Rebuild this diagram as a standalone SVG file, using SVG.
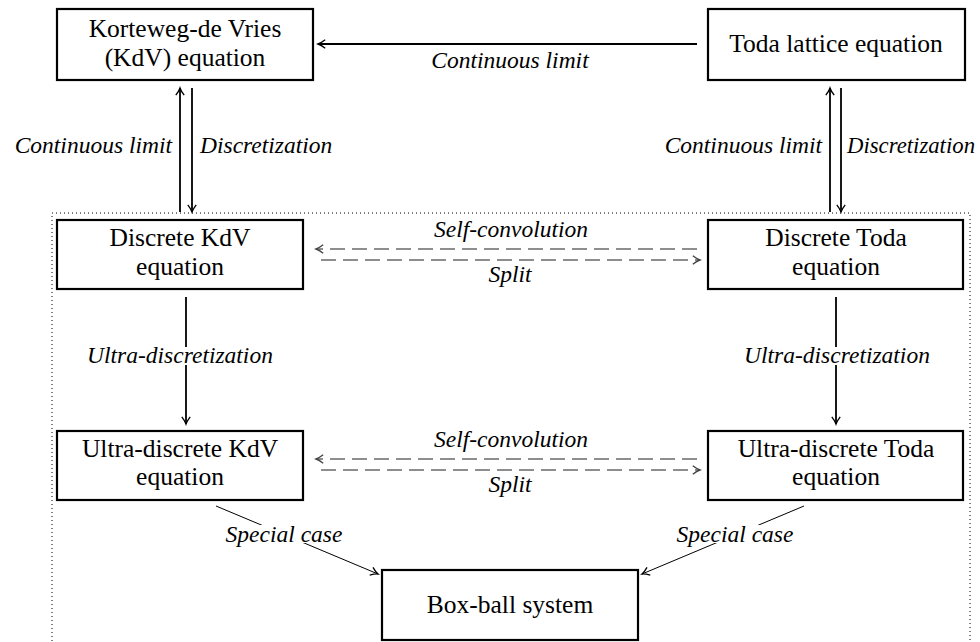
<svg xmlns="http://www.w3.org/2000/svg" width="980" height="642" viewBox="0 0 980 642">
<style>
.box{fill:#fff;stroke:#000;stroke-width:2.2}
.t{font-family:"Liberation Serif","Times New Roman",serif;font-size:25.5px;fill:#000;text-anchor:middle}
.l{font-family:"Liberation Serif","Times New Roman",serif;font-size:23.5px;font-style:italic;fill:#000}
.c{text-anchor:middle}
.e{text-anchor:end}
.ln{stroke:#000;stroke-width:1.8;fill:none}
.thin{stroke:#000;stroke-width:1;fill:none}
.dash{stroke:#6a6a6a;stroke-width:1.3;fill:none;stroke-dasharray:15 7}
.bg{fill:#fff}
</style>
<defs>
<marker id="ah" markerUnits="userSpaceOnUse" markerWidth="12" markerHeight="12" viewBox="-8 -5 10 10" refX="0" refY="0" orient="auto">
<path d="M-6,-3.5 Q-2.5,-0.8 0,0 Q-2.5,0.8 -6,3.5" fill="none" stroke="#000" stroke-width="1.1"/>
</marker>
<marker id="ahg" markerUnits="userSpaceOnUse" markerWidth="12" markerHeight="12" viewBox="-8 -5 10 10" refX="0" refY="0" orient="auto">
<path d="M-6,-3.5 Q-2.5,-0.8 0,0 Q-2.5,0.8 -6,3.5" fill="none" stroke="#444" stroke-width="1.1"/>
</marker>
</defs>
<rect x="52" y="213" width="918" height="440" fill="none" stroke="#000" stroke-width="1" stroke-dasharray="1 3"/>
<g id="connectors">
<line class="ln" x1="697" y1="44" x2="318" y2="44" marker-end="url(#ah)"/>
<line class="ln" x1="180" y1="212" x2="180" y2="88" marker-end="url(#ah)"/>
<line class="ln" x1="192" y1="88" x2="192" y2="212" marker-end="url(#ah)"/>
<line class="ln" x1="830" y1="212" x2="830" y2="88" marker-end="url(#ah)"/>
<line class="ln" x1="841" y1="88" x2="841" y2="212" marker-end="url(#ah)"/>
<line class="ln" x1="186" y1="297" x2="186" y2="424" marker-end="url(#ah)"/>
<line class="ln" x1="836" y1="297" x2="836" y2="424" marker-end="url(#ah)"/>
<line class="dash" x1="697" y1="249" x2="316" y2="249" marker-end="url(#ahg)"/>
<line class="dash" x1="321" y1="260" x2="700" y2="260" marker-end="url(#ahg)"/>
<line class="dash" x1="697" y1="459" x2="316" y2="459" marker-end="url(#ahg)"/>
<line class="dash" x1="321" y1="470" x2="700" y2="470" marker-end="url(#ahg)"/>
<line class="thin" x1="216" y1="506" x2="378" y2="574" marker-end="url(#ah)"/>
<line class="thin" x1="804" y1="506" x2="642" y2="574" marker-end="url(#ah)"/>
<text class="l c" x="510" y="68">Continuous limit</text>
<text class="l e" x="172" y="153">Continuous limit</text>
<text class="l" x="200" y="153">Discretization</text>
<text class="l e" x="822" y="153">Continuous limit</text>
<text class="l" x="847" y="153" textLength="128" lengthAdjust="spacingAndGlyphs">Discretization</text>
<text class="l c" x="511" y="237">Self-convolution</text>
<text class="l c" x="510" y="282">Split</text>
<text class="l c" x="511" y="447">Self-convolution</text>
<text class="l c" x="510" y="492">Split</text>
<rect class="bg" x="79" y="347" width="202" height="18"/>
<text class="l c" x="180" y="363">Ultra-discretization</text>
<rect class="bg" x="744" y="347" width="186" height="18"/>
<text class="l c" x="837" y="363">Ultra-discretization</text>
<rect class="bg" x="220" y="525" width="128" height="18"/>
<text class="l c" x="284" y="542">Special case</text>
<rect class="bg" x="674" y="525" width="122" height="18"/>
<text class="l c" x="735" y="542">Special case</text>
</g>
<g id="kdv"><rect class="box" x="57" y="9" width="256" height="71"/><text class="t" x="185" y="37">Korteweg-de Vries</text><text class="t" x="185" y="66">(KdV) equation</text></g>
<g id="toda"><rect class="box" x="708" y="9" width="257" height="71"/><text class="t" x="836" y="52">Toda lattice equation</text></g>
<g id="dkdv"><rect class="box" x="57" y="220" width="246" height="69"/><text class="t" x="180" y="246">Discrete KdV</text><text class="t" x="180" y="275">equation</text></g>
<g id="dtoda"><rect class="box" x="708" y="220" width="255" height="69"/><text class="t" x="836" y="246">Discrete Toda</text><text class="t" x="836" y="275">equation</text></g>
<g id="udkdv"><rect class="box" x="57" y="431" width="246" height="69"/><text class="t" x="180" y="457">Ultra-discrete KdV</text><text class="t" x="180" y="485">equation</text></g>
<g id="udtoda"><rect class="box" x="708" y="431" width="255" height="69"/><text class="t" x="836" y="457">Ultra-discrete Toda</text><text class="t" x="836" y="485">equation</text></g>
<g id="bbs"><rect class="box" x="382" y="570" width="256" height="70"/><text class="t" x="510" y="613">Box-ball system</text></g>
</svg>
